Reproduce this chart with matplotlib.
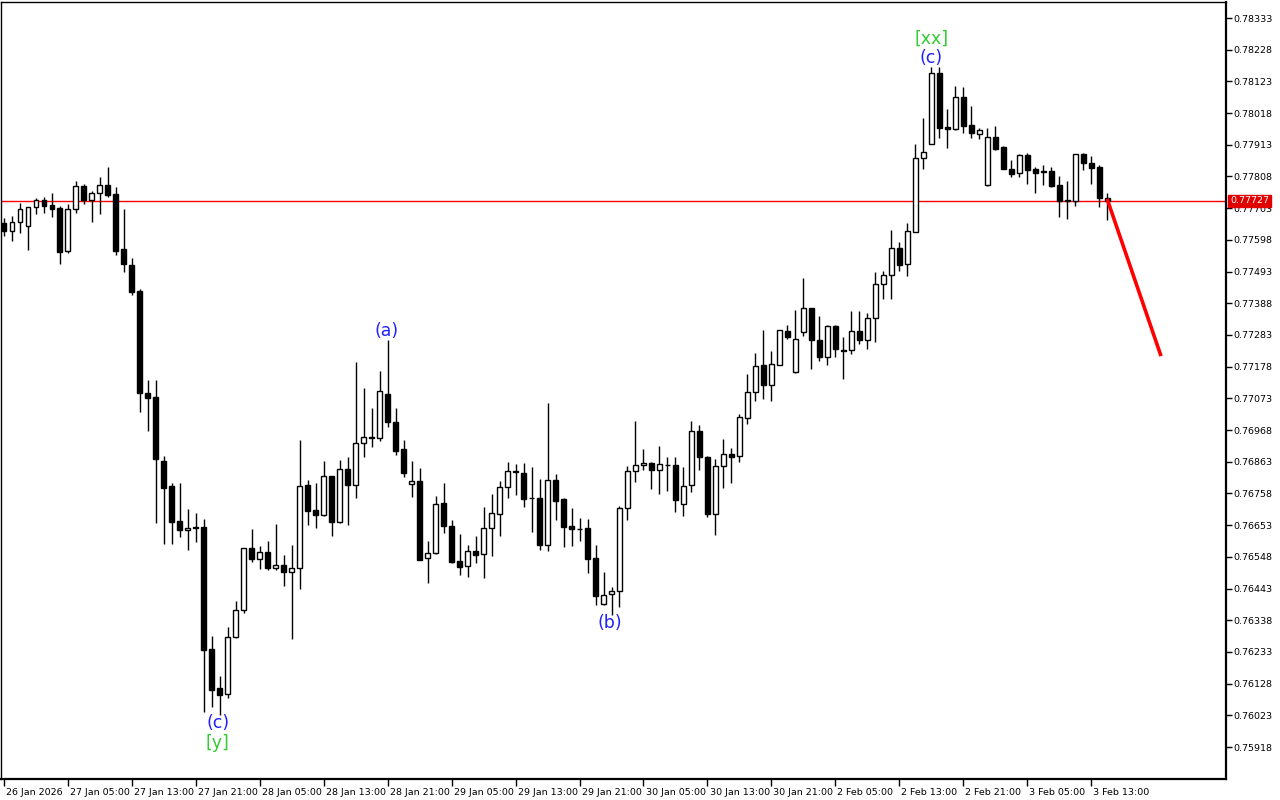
import matplotlib
matplotlib.use("Agg")
import matplotlib.pyplot as plt
import matplotlib.transforms as mtransforms
import numpy as np

# ---------------- data (hourly bars) ----------------
opens = [0.77655,0.77628,0.77657,0.77645,0.77706,0.77729,0.77713,0.77703,0.77562,0.77699,
         0.77776,0.77731,0.77752,0.77779,0.77750,0.77567,0.77514,0.77429,0.77090,0.77078,
         0.76866,0.76783,0.76667,0.76636,0.76647,0.76647,0.76243,0.76114,0.76095,0.76282,
         0.76371,0.76576,0.76542,0.76563,0.76512,0.76520,0.76499,0.76510,0.76785,0.76702,
         0.76688,0.76815,0.76663,0.76838,0.76785,0.76926,0.76944,0.76941,0.77087,0.76994,
         0.76904,0.76788,0.76799,0.76543,0.76560,0.76725,0.76649,0.76533,0.76517,0.76566,
         0.76556,0.76643,0.76689,0.76779,0.76828,0.76826,0.76744,0.76743,0.76586,0.76803,
         0.76740,0.76650,0.76640,0.76644,0.76544,0.76391,0.76424,0.76434,0.76709,0.76832,
         0.76851,0.76858,0.76835,0.76851,0.76851,0.76722,0.76785,0.76964,0.76878,0.76689,
         0.76848,0.76888,0.76881,0.77007,0.77093,0.77183,0.77116,0.77183,0.77295,0.77159,
         0.77292,0.77371,0.77265,0.77209,0.77312,0.77232,0.77232,0.77295,0.77265,0.77338,
         0.77451,0.77481,0.77570,0.77517,0.77625,0.77868,0.77915,0.78150,0.77971,0.77964,
         0.78070,0.77978,0.77948,0.77781,0.77938,0.77905,0.77832,0.77821,0.77878,0.77832,
         0.77825,0.77825,0.77780,0.77728,0.77728,0.77882,0.77852,0.77840,0.77738]
highs = [0.77670,0.77677,0.77721,0.77708,0.77738,0.77740,0.77753,0.77711,0.77717,0.77793,
         0.77783,0.77759,0.77806,0.77840,0.77772,0.77699,0.77537,0.77434,0.77134,0.77134,
         0.76882,0.76792,0.76792,0.76707,0.76693,0.76673,0.76286,0.76153,0.76316,0.76402,
         0.76578,0.76640,0.76583,0.76601,0.76657,0.76553,0.76586,0.76935,0.76802,0.76792,
         0.76866,0.76817,0.76869,0.76879,0.77193,0.77106,0.77040,0.77164,0.77266,0.77040,
         0.76935,0.76865,0.76841,0.76601,0.76750,0.76793,0.76669,0.76623,0.76587,0.76617,
         0.76713,0.76756,0.76799,0.76862,0.76856,0.76859,0.76846,0.76806,0.77057,0.76823,
         0.76742,0.76710,0.76677,0.76673,0.76587,0.76498,0.76448,0.76716,0.76848,0.76998,
         0.76905,0.76861,0.76914,0.76878,0.76878,0.76845,0.76998,0.76985,0.76881,0.76871,
         0.76937,0.76908,0.77020,0.77153,0.77222,0.77299,0.77229,0.77300,0.77315,0.77365,
         0.77471,0.77372,0.77345,0.77315,0.77315,0.77275,0.77362,0.77362,0.77355,0.77491,
         0.77494,0.77630,0.77590,0.77653,0.77915,0.78001,0.78170,0.78170,0.78031,0.78107,
         0.78103,0.78041,0.77968,0.77968,0.77974,0.77908,0.77862,0.77882,0.77885,0.77840,
         0.77845,0.77840,0.77811,0.77792,0.77883,0.77885,0.77877,0.77845,0.77752]
lows = [0.77611,0.77595,0.77622,0.77565,0.77684,0.77688,0.77675,0.77519,0.77556,0.77688,
        0.77718,0.77658,0.77685,0.77741,0.77548,0.77493,0.77416,0.77029,0.76965,0.76659,
        0.76591,0.76591,0.76615,0.76572,0.76598,0.76035,0.76052,0.76024,0.76082,0.76280,
        0.76363,0.76532,0.76509,0.76506,0.76506,0.76453,0.76277,0.76443,0.76655,0.76645,
        0.76684,0.76618,0.76659,0.76655,0.76744,0.76880,0.76913,0.76931,0.76977,0.76886,
        0.76814,0.76745,0.76538,0.76460,0.76558,0.76628,0.76529,0.76489,0.76482,0.76529,
        0.76479,0.76552,0.76618,0.76742,0.76753,0.76714,0.76631,0.76572,0.76569,0.76671,
        0.76582,0.76585,0.76602,0.76496,0.76390,0.76389,0.76356,0.76381,0.76669,0.76795,
        0.76835,0.76774,0.76755,0.76765,0.76698,0.76684,0.76764,0.76837,0.76681,0.76621,
        0.76777,0.76794,0.76861,0.76987,0.77063,0.77070,0.77063,0.77182,0.77269,0.77158,
        0.77279,0.77169,0.77196,0.77183,0.77209,0.77136,0.77219,0.77252,0.77236,0.77259,
        0.77401,0.77401,0.77494,0.77477,0.77623,0.77834,0.77914,0.77934,0.77903,0.77962,
        0.77951,0.77934,0.77931,0.77778,0.77895,0.77832,0.77807,0.77807,0.77784,0.77754,
        0.77781,0.77774,0.77675,0.77667,0.77711,0.77829,0.77784,0.77708,0.77663]
closes = [0.77628,0.77657,0.77699,0.77706,0.77729,0.77711,0.77701,0.77559,0.77699,0.77776,
          0.77730,0.77752,0.77779,0.77746,0.77562,0.77517,0.77426,0.77092,0.77075,0.76873,
          0.76777,0.76665,0.76636,0.76644,0.76643,0.76241,0.76108,0.76092,0.76282,0.76371,
          0.76576,0.76542,0.76563,0.76512,0.76520,0.76499,0.76510,0.76782,0.76701,0.76688,
          0.76815,0.76663,0.76838,0.76785,0.76926,0.76944,0.76941,0.77096,0.76994,0.76900,
          0.76825,0.76799,0.76539,0.76560,0.76722,0.76649,0.76531,0.76514,0.76566,0.76553,
          0.76643,0.76692,0.76779,0.76832,0.76831,0.76741,0.76743,0.76586,0.76803,0.76734,
          0.76646,0.76639,0.76639,0.76542,0.76419,0.76421,0.76434,0.76709,0.76832,0.76851,
          0.76858,0.76835,0.76855,0.76852,0.76735,0.76782,0.76964,0.76878,0.76691,0.76848,
          0.76888,0.76878,0.77010,0.77093,0.77179,0.77116,0.77186,0.77299,0.77275,0.77269,
          0.77371,0.77265,0.77209,0.77312,0.77236,0.77231,0.77295,0.77265,0.77338,0.77451,
          0.77481,0.77570,0.77514,0.77626,0.77868,0.77888,0.78150,0.77970,0.77964,0.78070,
          0.77976,0.77951,0.77961,0.77938,0.77898,0.77834,0.77817,0.77878,0.77830,0.77821,
          0.77824,0.77778,0.77728,0.77729,0.77882,0.77852,0.77837,0.77738,0.77727]

time_labels = ["26 Jan 2026", "27 Jan 05:00", "27 Jan 13:00", "27 Jan 21:00",
               "28 Jan 05:00", "28 Jan 13:00", "28 Jan 21:00", "29 Jan 05:00",
               "29 Jan 13:00", "29 Jan 21:00", "30 Jan 05:00", "30 Jan 13:00",
               "30 Jan 21:00", "2 Feb 05:00", "2 Feb 13:00", "2 Feb 21:00",
               "3 Feb 05:00", "3 Feb 13:00"]
label_step = 8  # bars between time labels

price_ticks = [0.78333, 0.78228, 0.78123, 0.78018, 0.77913, 0.77808, 0.77703,
               0.77598, 0.77493, 0.77388, 0.77283, 0.77178, 0.77073, 0.76968,
               0.76863, 0.76758, 0.76653, 0.76548, 0.76443, 0.76338, 0.76233,
               0.76128, 0.76023, 0.75918]

current_price = 0.77727

forecast_bars = [138, 144.75]
forecast_prices = [0.77734, 0.77213]

wave_labels = [  # (text, bar, price, colour)
    ("(c)", 26.75, 0.75998, "#2020ff"),
    ("[y]", 26.75, 0.75931, "#33cc33"),
    ("(a)", 47.9, 0.77296, "#2020ff"),
    ("(b)", 75.75, 0.76329, "#2020ff"),
    ("(c)", 116.0, 0.78200, "#2020ff"),
    ("[xx]", 116.0, 0.78263, "#33cc33"),
]

# ---------------- figure ----------------
fig = plt.figure(figsize=(12.8, 8), dpi=100)
ax = fig.add_axes([0.0008, 0.02625, 0.9570, 0.97125])
ax.set_facecolor("white")

n = len(opens)
x = np.arange(n)
o = np.array(opens); h = np.array(highs); l = np.array(lows); c = np.array(closes)
up = c >= o

ax.vlines(x, l, h, color="black", linewidth=1.0, zorder=2)
body_w = 0.62
bottoms = np.minimum(o, c)
heights = np.maximum(np.abs(c - o), 0.000004)
ax.bar(x[up], heights[up], bottom=bottoms[up], width=body_w,
       facecolor="white", edgecolor="black", linewidth=1.0, zorder=3)
ax.bar(x[~up], heights[~up], bottom=bottoms[~up], width=body_w,
       facecolor="black", edgecolor="black", linewidth=1.0, zorder=3)

# current price line
ax.axhline(current_price, color="#ff0000", linewidth=1.0, zorder=1)

# forecast line
ax.plot(forecast_bars, forecast_prices, color="#ff0000", linewidth=2.6,
        solid_capstyle="butt", zorder=4)

for txt, b, p, col in wave_labels:
    ax.text(b, p, txt, color=col, fontsize=12.5, ha="center", va="center",
            family="DejaVu Sans", zorder=5)

ax.set_xlim(-0.375, 152.875)
ax.set_ylim(0.758123, 0.78386)

# x ticks
ax.set_xticks(np.arange(len(time_labels)) * label_step)
ax.set_xticklabels(time_labels, fontsize=6.8, ha="left")
ax.tick_params(axis="x", direction="out", length=5, width=1, pad=1.5)
offset = mtransforms.ScaledTranslation(1.5 / 72, 0, fig.dpi_scale_trans)
for lbl in ax.get_xticklabels():
    lbl.set_transform(lbl.get_transform() + offset)

# y ticks on the right
ax.yaxis.tick_right()
ax.set_yticks(price_ticks)
ax.set_yticklabels([f"{v:.5f}" for v in price_ticks], fontsize=6.8)
ax.tick_params(axis="y", direction="out", length=4, width=1, pad=1.5)

for s in ["left", "top"]:
    ax.spines[s].set_linewidth(1.0)
for s in ["right", "bottom"]:
    ax.spines[s].set_linewidth(1.6)

# current price box on the price scale
ax.annotate(f"{current_price:.5f}", xy=(1.0, current_price),
            xycoords=("axes fraction", "data"), xytext=(3, 0),
            textcoords="offset points", fontsize=6.8, color="white",
            va="center", ha="left", annotation_clip=False, zorder=10,
            bbox=dict(boxstyle="square,pad=0.18", facecolor="#e00000",
                      edgecolor="#e00000"))

fig.savefig("out.png", dpi=100, facecolor="white")
